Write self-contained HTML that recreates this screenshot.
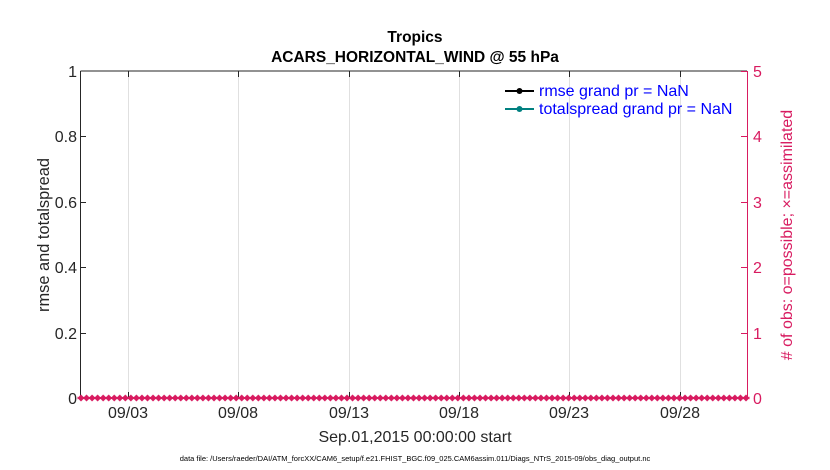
<!DOCTYPE html>
<html><head><style>body{margin:0;background:#fff;}svg{display:block;font-family:"Liberation Sans",sans-serif;}</style></head>
<body>
<svg width="830" height="470" xmlns="http://www.w3.org/2000/svg">
<defs>
<pattern id="dm" patternUnits="userSpaceOnUse" x="78.23" y="394" width="5.5417" height="8">
<path d="M-0.73 4 L2.77 0.5 L6.27 4 L2.77 7.5Z" fill="#d81b60"/>
</pattern>
</defs>
<rect width="830" height="470" fill="#fff"/>
<text x="415" y="42" font-size="15.5" font-weight="bold" text-anchor="middle">Tropics</text>
<text x="415" y="62" font-size="15.5" font-weight="bold" text-anchor="middle">ACARS_HORIZONTAL_WIND @ 55 hPa</text>
<g stroke="#e0e0e0" stroke-width="1">
<line x1="128.5" y1="71" x2="128.5" y2="398"/><line x1="238.5" y1="71" x2="238.5" y2="398"/><line x1="349.5" y1="71" x2="349.5" y2="398"/><line x1="459.5" y1="71" x2="459.5" y2="398"/><line x1="569.5" y1="71" x2="569.5" y2="398"/><line x1="680.5" y1="71" x2="680.5" y2="398"/>
</g>
<line x1="80.5" y1="71" x2="747" y2="71" stroke="#262626"/>
<line x1="80.5" y1="71" x2="80.5" y2="398" stroke="#262626"/>
<line x1="80" y1="398.5" x2="747" y2="398.5" stroke="#262626"/>
<line x1="747.5" y1="71" x2="747.5" y2="398" stroke="#d81b60"/>
<g stroke="#262626">
<line x1="128.5" y1="398" x2="128.5" y2="392"/><line x1="238.5" y1="398" x2="238.5" y2="392"/><line x1="349.5" y1="398" x2="349.5" y2="392"/><line x1="459.5" y1="398" x2="459.5" y2="392"/><line x1="569.5" y1="398" x2="569.5" y2="392"/><line x1="680.5" y1="398" x2="680.5" y2="392"/>
<line x1="128.5" y1="71" x2="128.5" y2="77"/><line x1="238.5" y1="71" x2="238.5" y2="77"/><line x1="349.5" y1="71" x2="349.5" y2="77"/><line x1="459.5" y1="71" x2="459.5" y2="77"/><line x1="569.5" y1="71" x2="569.5" y2="77"/><line x1="680.5" y1="71" x2="680.5" y2="77"/>
<line x1="80" y1="136.5" x2="86" y2="136.5"/><line x1="80" y1="202.5" x2="86" y2="202.5"/><line x1="80" y1="267.5" x2="86" y2="267.5"/><line x1="80" y1="333.5" x2="86" y2="333.5"/>
</g>
<g stroke="#d81b60">
<line x1="741" y1="71.5" x2="747" y2="71.5"/><line x1="741" y1="136.5" x2="747" y2="136.5"/><line x1="741" y1="202.5" x2="747" y2="202.5"/><line x1="741" y1="267.5" x2="747" y2="267.5"/><line x1="741" y1="333.5" x2="747" y2="333.5"/>
</g>
<g font-size="16" fill="#262626" text-anchor="end">
<text x="77" y="77">1</text><text x="77" y="142">0.8</text><text x="77" y="208">0.6</text><text x="77" y="273">0.4</text><text x="77" y="339">0.2</text><text x="77" y="404">0</text>
</g>
<g font-size="16" fill="#d81b60">
<text x="753" y="77">5</text><text x="753" y="142">4</text><text x="753" y="208">3</text><text x="753" y="273">2</text><text x="753" y="339">1</text><text x="753" y="404">0</text>
</g>
<g font-size="16" fill="#262626" text-anchor="middle">
<text x="128" y="418">09/03</text><text x="238" y="418">09/08</text><text x="349" y="418">09/13</text><text x="459" y="418">09/18</text><text x="569" y="418">09/23</text><text x="680" y="418">09/28</text>
<text x="415" y="442">Sep.01,2015 00:00:00 start</text>
</g>
<text transform="translate(49,235) rotate(-90)" font-size="16.4" fill="#262626" text-anchor="middle">rmse and totalspread</text>
<text transform="translate(792,235) rotate(-90)" font-size="16" fill="#d81b60" text-anchor="middle"># of obs: o=possible; ×=assimilated</text>
<text x="415" y="461" font-size="7.5" fill="#000" text-anchor="middle">data file: /Users/raeder/DAI/ATM_forcXX/CAM6_setup/f.e21.FHIST_BGC.f09_025.CAM6assim.011/Diags_NTrS_2015-09/obs_diag_output.nc</text>
<line x1="505" y1="91" x2="534" y2="91" stroke="#000" stroke-width="2"/><circle cx="519.5" cy="91" r="3" fill="#000"/>
<line x1="505" y1="109" x2="534" y2="109" stroke="#008080" stroke-width="2"/><circle cx="519.5" cy="109" r="3" fill="#008080"/>
<text x="539" y="96" font-size="16" fill="#0000ff">rmse grand pr = NaN</text>
<text x="539" y="114" font-size="16" fill="#0000ff">totalspread grand pr = NaN</text>
<line x1="81" y1="398" x2="746" y2="398" stroke="#d81b60" stroke-width="2"/>
<rect x="77.5" y="394" width="672" height="8" fill="url(#dm)"/>
</svg>
</body></html>
